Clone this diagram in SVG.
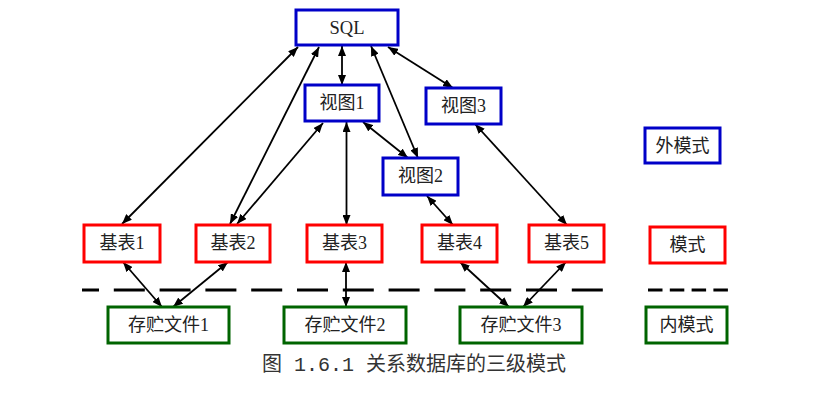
<svg xmlns="http://www.w3.org/2000/svg" width="831" height="417" viewBox="0 0 831 417">
<defs>
<marker id="ah" viewBox="0 0 10 8" refX="10" refY="4" markerWidth="10" markerHeight="8" markerUnits="userSpaceOnUse" orient="auto-start-reverse">
<path d="M0,0 L10,4 L0,8 Z" fill="#000"/>
</marker>
<style>
.b{fill:#fff;stroke-width:3}
.ext{stroke:#0000c8}
.mid{stroke:#ff0000}
.int{stroke:#006400}
.t{font-family:"Liberation Serif","Noto Sans CJK SC",serif;font-size:18px;fill:#222;text-anchor:middle}
.c line{stroke:#000;stroke-width:1.8;marker-start:url(#ah);marker-end:url(#ah)}
.d{stroke:#000;stroke-width:3;fill:none}
</style>
</defs>
<rect width="831" height="417" fill="#fff"/>
<g id="dashes">
<line class="d" x1="82" y1="290" x2="603" y2="290" stroke-dasharray="31 14.8" stroke-dashoffset="14"/>
<line class="d" x1="648" y1="290" x2="728" y2="290" stroke-dasharray="14.5 7.3"/>
</g>
<g class="c" id="connectors">
<line x1="298" y1="47" x2="122" y2="224"/>
<line x1="319" y1="47" x2="230" y2="224"/>
<line x1="323" y1="123" x2="237" y2="224"/>
<line x1="342" y1="46" x2="342" y2="85"/>
<line x1="371" y1="46" x2="418" y2="158"/>
<line x1="388" y1="47" x2="453" y2="88"/>
<line x1="363" y1="122" x2="408" y2="158"/>
<line x1="346.5" y1="122" x2="346.5" y2="225"/>
<line x1="475" y1="124" x2="567" y2="225"/>
<line x1="427" y1="196" x2="453" y2="225"/>
<line x1="123" y1="262" x2="162" y2="307"/>
<line x1="228" y1="262" x2="173" y2="307"/>
<line x1="346" y1="262" x2="346" y2="307"/>
<line x1="460" y1="262" x2="509" y2="307"/>
<line x1="566" y1="262" x2="523" y2="307"/>
</g>
<g id="sql"><rect class="b ext" x="296" y="10" width="102" height="35"/><text class="t" x="347" y="34" style="font-size:18.5px">SQL</text></g>
<g id="view1"><rect class="b ext" x="305" y="85" width="74" height="36"/><text class="t" x="342" y="109">视图1</text></g>
<g id="view3"><rect class="b ext" x="426" y="88" width="75" height="36"/><text class="t" x="463.5" y="112">视图3</text></g>
<g id="view2"><rect class="b ext" x="383" y="158" width="75" height="37"/><text class="t" x="420.5" y="182">视图2</text></g>
<g id="ext-legend"><rect class="b ext" x="645" y="128" width="75" height="35"/><text class="t" x="682.5" y="152">外模式</text></g>
<g id="table1"><rect class="b mid" x="84" y="225" width="76" height="37"/><text class="t" x="122" y="249">基表1</text></g>
<g id="table2"><rect class="b mid" x="196" y="225" width="74" height="37"/><text class="t" x="233" y="249">基表2</text></g>
<g id="table3"><rect class="b mid" x="307" y="225" width="75" height="37"/><text class="t" x="344.5" y="249">基表3</text></g>
<g id="table4"><rect class="b mid" x="422" y="225" width="75" height="37"/><text class="t" x="459.5" y="249">基表4</text></g>
<g id="table5"><rect class="b mid" x="529" y="225" width="75" height="37"/><text class="t" x="566.5" y="249">基表5</text></g>
<g id="mid-legend"><rect class="b mid" x="650" y="227" width="75" height="36"/><text class="t" x="687.5" y="251">模式</text></g>
<g id="file1"><rect class="b int" x="108" y="307" width="121" height="36"/><text class="t" x="168.5" y="331">存贮文件1</text></g>
<g id="file2"><rect class="b int" x="284" y="307" width="122" height="36"/><text class="t" x="345" y="331">存贮文件2</text></g>
<g id="file3"><rect class="b int" x="460" y="307" width="122" height="36"/><text class="t" x="521" y="331">存贮文件3</text></g>
<g id="int-legend"><rect class="b int" x="646" y="307" width="81" height="36"/><text class="t" x="686.5" y="331">内模式</text></g>
<text x="262" y="371" font-family="'Liberation Mono','Noto Sans CJK SC',monospace" font-size="20" fill="#333">图 1.6.1 关系数据库的三级模式</text>
</svg>
